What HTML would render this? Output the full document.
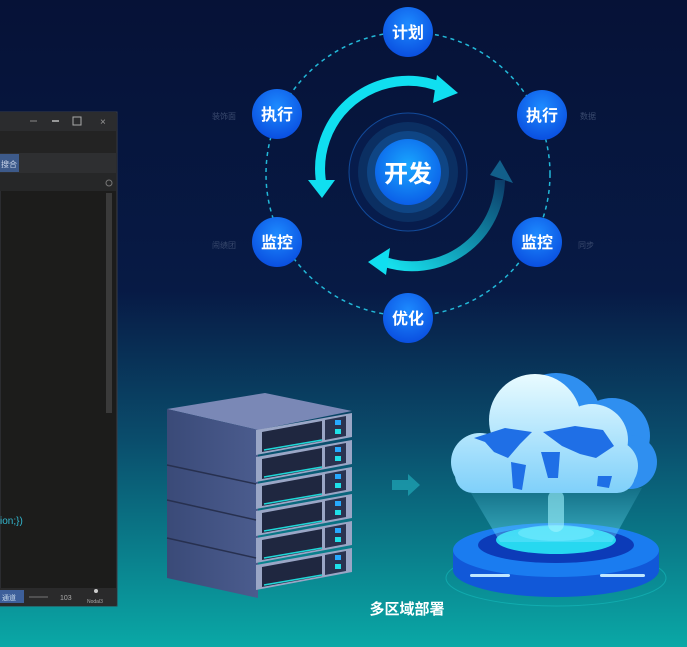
<!DOCTYPE html>
<html><head><meta charset="utf-8"><style>
html,body{margin:0;padding:0;width:687px;height:647px;overflow:hidden;background:#061338}
svg{display:block}
text{font-family:"Liberation Sans","Noto Sans CJK SC",sans-serif}
</style></head><body>
<svg width="687" height="647" viewBox="0 0 687 647" xmlns="http://www.w3.org/2000/svg">
<defs>
<linearGradient id="bg" x1="0" y1="0" x2="0" y2="1">
<stop offset="0" stop-color="#061237"/><stop offset="0.45" stop-color="#071a45"/>
<stop offset="0.68" stop-color="#0a4d6c"/><stop offset="1" stop-color="#0aa8a6"/>
</linearGradient>
<radialGradient id="node" cx="0.5" cy="0.35" r="0.65">
<stop offset="0" stop-color="#1d8bff"/><stop offset="1" stop-color="#0a4fe0"/>
</radialGradient>
<radialGradient id="core" cx="0.5" cy="0.4" r="0.6">
<stop offset="0" stop-color="#19a7ff"/><stop offset="1" stop-color="#0b5fe8"/>
</radialGradient>
<linearGradient id="arr2" x1="0" y1="1" x2="1" y2="0">
<stop offset="0" stop-color="#16e4f0"/><stop offset="1" stop-color="#0c3e6a"/>
</linearGradient>
<linearGradient id="cloud" gradientUnits="userSpaceOnUse" x1="0" y1="375" x2="0" y2="493">
<stop offset="0" stop-color="#e8fbff"/><stop offset="1" stop-color="#7fd0fa"/>
</linearGradient>
<linearGradient id="side" x1="0" y1="0" x2="1" y2="0">
<stop offset="0" stop-color="#3a4a78"/><stop offset="1" stop-color="#4b5c8e"/>
</linearGradient>
<linearGradient id="beam" x1="0" y1="0" x2="0" y2="1">
<stop offset="0" stop-color="#6fe3ff" stop-opacity="0.1"/><stop offset="1" stop-color="#6fe3ff" stop-opacity="0.45"/>
</linearGradient>
</defs>
<rect width="687" height="647" fill="url(#bg)"/>

<!-- editor window -->
<rect x="0" y="112" width="117" height="494" fill="#1c1c1b" stroke="#3a3d44"/>
<rect x="0" y="112" width="116" height="19" fill="#2b2c2e"/>
<line x1="30" y1="121" x2="37" y2="121" stroke="#888" />
<line x1="52" y1="121" x2="59" y2="121" stroke="#bbb" stroke-width="1.5"/>
<rect x="73" y="117" width="8" height="8" fill="none" stroke="#aaa"/>
<text x="100" y="125" font-size="10" fill="#999">×</text>
<rect x="0" y="131" width="116" height="22" fill="#232323"/>
<rect x="0" y="153" width="116" height="20" fill="#2e2f31"/>
<rect x="0" y="154" width="19" height="18" fill="#3d5a8a"/>
<text x="1" y="167" font-size="8" fill="#c8d4ea">搜合</text>
<rect x="0" y="173" width="116" height="18" fill="#262728"/>
<circle cx="109" cy="183" r="3" fill="none" stroke="#777"/>
<rect x="106" y="193" width="6" height="220" fill="#3a3a3a"/>
<text x="0" y="524" font-size="10" fill="#33b7cf" font-family="Liberation Mono">ion;})</text>
<rect x="0" y="588" width="116" height="18" fill="#2a2a2b"/>
<rect x="0" y="590" width="24" height="13" fill="#3d5f9a"/>
<text x="2" y="600" font-size="7" fill="#cde">通道</text>
<line x1="29" y1="597" x2="48" y2="597" stroke="#777"/>
<text x="60" y="600" font-size="7" fill="#aaa">103</text>
<circle cx="96" cy="591" r="2" fill="#ccc"/>
<text x="87" y="603" font-size="5" fill="#aaa">Nodal3</text>

<!-- dashed ring -->
<circle cx="408" cy="174" r="142" fill="none" stroke="#22b8d8" stroke-width="1.5" stroke-dasharray="4 4"/>
<!-- core rings -->
<circle cx="408" cy="172" r="59" fill="#071c4c" stroke="#124a9a" stroke-width="1"/>
<circle cx="408" cy="172" r="50" fill="#0b2f62"/>
<circle cx="408" cy="172" r="41" fill="#0f4584"/>
<circle cx="408" cy="172" r="33" fill="url(#core)"/>
<text x="408" y="182" font-size="24" font-weight="bold" fill="#fff" text-anchor="middle">开发</text>

<!-- arrows -->
<path d="M322 187 A88 88 0 0 1 443 88" fill="none" stroke="#10dff0" stroke-width="10"/>
<polygon points="437,75 458,93 433,103" fill="#10dff0"/>
<polygon points="308,180 335,180 322,198" fill="#10dff0"/>
<path d="M500 180 A88 88 0 0 1 385 262" fill="none" stroke="url(#arr2)" stroke-width="10"/>
<polygon points="490,175 513,183 500,160" fill="#125f8a"/>
<polygon points="368,262 390,248 386,275" fill="#10dff0"/>

<!-- nodes -->
<g font-size="16" font-weight="bold" fill="#fff" text-anchor="middle">
<circle cx="408" cy="32" r="25" fill="url(#node)"/><text x="408" y="38">计划</text>
<circle cx="277" cy="114" r="25" fill="url(#node)"/><text x="277" y="120">执行</text>
<circle cx="542" cy="115" r="25" fill="url(#node)"/><text x="542" y="121">执行</text>
<circle cx="277" cy="242" r="25" fill="url(#node)"/><text x="277" y="248">监控</text>
<circle cx="537" cy="242" r="25" fill="url(#node)"/><text x="537" y="248">监控</text>
<circle cx="408" cy="318" r="25" fill="url(#node)"/><text x="408" y="324">优化</text>
</g>
<g font-size="8" fill="#3a4a6e">
<text x="212" y="119">装饰面</text><text x="580" y="119">数据</text>
<text x="212" y="248">闹绩团</text><text x="578" y="248">同步</text>
</g>

<!-- servers -->
<polygon points="167,409 265,393 352,411 258,430" fill="#7a88b6"/>
<polygon points="167,409 258,430 258,598 167,578" fill="url(#side)"/>
<g id="units">
<g>
<polygon points="256,430 352,413 352,437 256,455" fill="#9aa6c6"/>
<polygon points="262,432 322,421 322,441 262,452" fill="#1f2740"/>
<polygon points="325,420 346,416 346,436 325,440" fill="#2a3350"/>
<rect x="335" y="420" width="6" height="5" fill="#27a9ff"/>
<rect x="335" y="429" width="6" height="5" fill="#1fe0e8"/>
<line x1="264" y1="450" x2="322" y2="440" stroke="#1fd8d8" stroke-width="1.5"/>
</g>
</g>
<use href="#units" y="27"/><use href="#units" y="54"/><use href="#units" y="81"/><use href="#units" y="108"/><use href="#units" y="135"/>
<g stroke="#27304f" stroke-width="1.5">
<line x1="167" y1="465" x2="256" y2="484"/><line x1="167" y1="500" x2="256" y2="520"/>
<line x1="167" y1="538" x2="256" y2="558"/>
</g>

<!-- arrow between -->
<polygon points="392,480 408,480 408,474 420,485 408,496 408,490 392,490" fill="#1fa8b8" opacity="0.7"/>

<!-- platform -->
<ellipse cx="556" cy="578" rx="110" ry="28" fill="none" stroke="#1bd0d0" stroke-opacity="0.4"/>
<path d="M453 550 L453 570 A103 27 0 0 0 659 570 L659 550 Z" fill="#1158d8"/>
<ellipse cx="556" cy="550" rx="103" ry="27" fill="#1a7cf0"/>
<ellipse cx="556" cy="545" rx="78" ry="18" fill="#0c3bb8"/>
<ellipse cx="556" cy="540" rx="60" ry="14" fill="#27d8f0"/>
<ellipse cx="556" cy="533" rx="38" ry="8" fill="#7af0ff" opacity="0.6"/>
<rect x="470" y="574" width="40" height="3" rx="1.5" fill="#bfe6ff"/>
<rect x="600" y="574" width="45" height="3" rx="1.5" fill="#bfe6ff"/>
<polygon points="468,488 642,488 612,542 500,542" fill="url(#beam)"/>
<rect x="548" y="490" width="16" height="42" rx="8" fill="#9ff4ff" opacity="0.6"/>

<!-- cloud back -->
<g fill="#2f8ff0">
<circle cx="556" cy="418" r="45"/><circle cx="612" cy="436" r="38"/><circle cx="630" cy="462" r="27"/>
<rect x="520" y="440" width="120" height="50" rx="20"/>
</g>
<!-- cloud front -->
<g fill="url(#cloud)">
<circle cx="480" cy="462" r="29"/><circle cx="535" cy="420" r="46"/><circle cx="592" cy="440" r="36"/><circle cx="612" cy="466" r="26"/>
<rect x="455" y="455" width="180" height="38" rx="18"/>
</g>
<g fill="#1f6fe6">
<path d="M474 438 L505 428 L532 432 L520 444 L508 458 L494 452 L485 442 Z"/>
<path d="M511 462 L526 465 L522 490 L513 488 Z"/>
<path d="M543 432 L575 426 L603 430 L614 446 L596 458 L580 454 L562 446 Z"/>
<path d="M541 452 L560 452 L558 478 L548 478 Z"/>
<path d="M598 476 L612 476 L609 488 L597 486 Z"/>
</g>

<text x="407" y="614" font-size="15" font-weight="bold" fill="#fff" text-anchor="middle">多区域部署</text>
</svg>
</body></html>
